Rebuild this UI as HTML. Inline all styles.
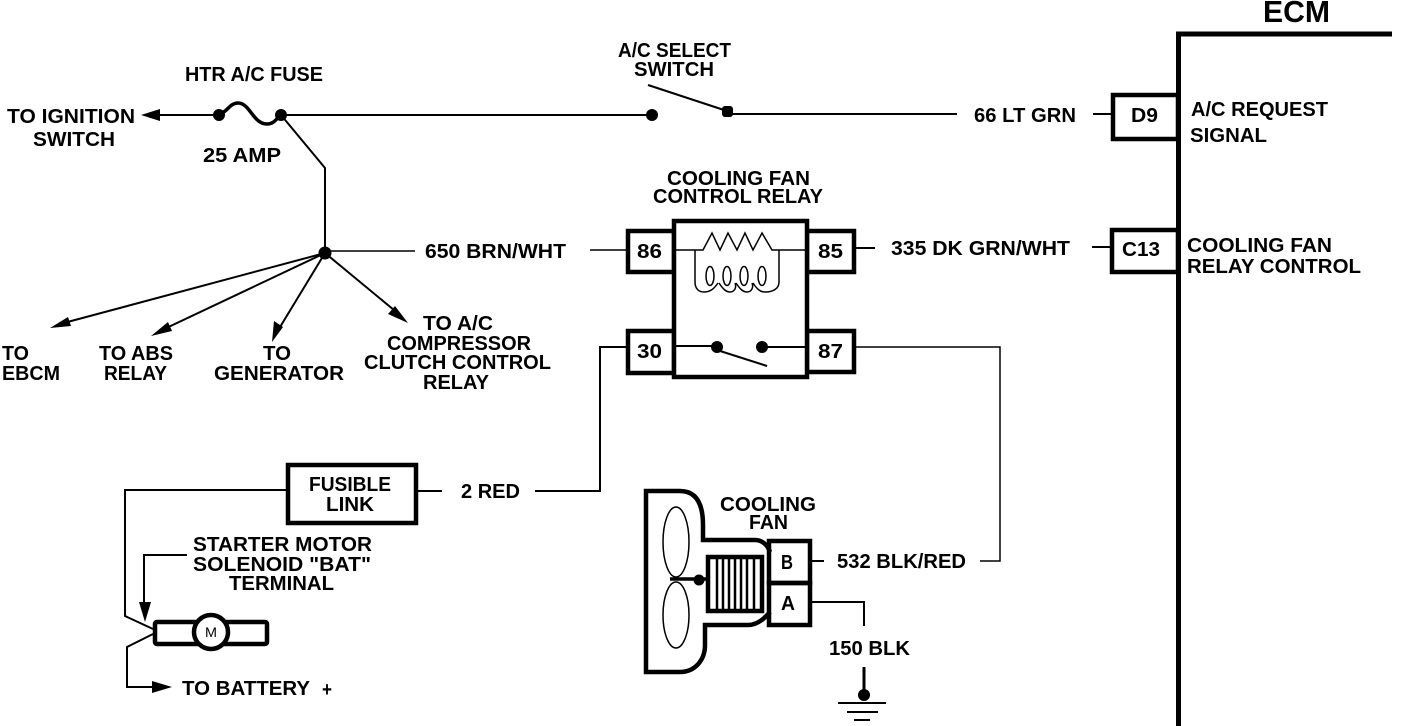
<!DOCTYPE html>
<html><head><meta charset="utf-8"><style>
html,body{margin:0;padding:0;background:#fff}
svg{display:block}
text{font-family:"Liberation Sans",sans-serif;font-weight:bold;font-size:20px;fill:#000}
.w{fill:none;stroke:#000;stroke-width:2}
.t{fill:none;stroke:#000;stroke-width:1.5}
.b{fill:none;stroke:#000;stroke-width:4.5}
</style></head><body>
<svg width="1408" height="726" viewBox="0 0 1408 726" xmlns="http://www.w3.org/2000/svg">
<rect width="1408" height="726" fill="#fff"/>

<!-- ECM -->
<path d="M1392 34H1178.5V726" fill="none" stroke="#000" stroke-width="5"/>
<text x="1263" y="22" style="font-size:31px" textLength="67" lengthAdjust="spacingAndGlyphs">ECM</text>

<!-- top wire -->
<path class="w" d="M158 115H219"/>
<path d="M141 115L160 109V121Z"/>
<path d="M219 115C228 111 230 103 238 103C250 103 253 124 267 124C274 124 276 119 281 115" fill="none" stroke="#000" stroke-width="3.5"/>
<circle cx="219" cy="115" r="6"/><circle cx="281" cy="115" r="6"/>
<path class="w" d="M281 115H652"/>
<circle cx="652" cy="115" r="6"/>
<path class="w" d="M648 85L727 111"/>
<rect x="722" y="106" width="11" height="11" rx="3"/>
<path class="w" d="M727 114H957"/>
<path class="w" d="M1093 114H1112"/>
<rect class="b" x="1113" y="95" width="65" height="44"/>

<!-- branch -->
<path class="w" d="M281 115L325 168V253"/>
<circle cx="325" cy="253" r="6.5"/>
<path class="t" d="M325 251H415"/>
<path class="w" d="M325 253L60 324"/>
<path d="M50 328L68 317L71 326Z"/>
<path class="w" d="M325 253L160 331"/>
<path d="M151 336L168 322L172 331Z"/>
<path class="w" d="M325 253L277 332"/>
<path d="M272 342L274 321L283 327Z"/>
<path class="w" d="M325 253L400 315"/>
<path d="M408 323L388 314L395 306Z"/>

<!-- relay -->
<path class="t" d="M590 250H626"/>
<rect class="b" x="628" y="231" width="46" height="41"/>
<rect class="b" x="807" y="231" width="47" height="41"/>
<rect class="b" x="628" y="331" width="46" height="42"/>
<rect class="b" x="807" y="331" width="47" height="41"/>
<rect x="674" y="221" width="133" height="156" fill="#fff" stroke="#000" stroke-width="4.5"/>
<path class="t" d="M675 250H703L712 233L720 250L728 233L737 250L745 233L753 250L762 233L772 250H807"/>
<path class="t" d="M695 250V282C695 289 699 292 704 292C710 292 714 289 718 283M719 283C723 289 726 292 730 292C734 292 737 288 735 283M736 283C740 289 743 292 747 292C751 292 754 288 752 283M753 283C757 289 760 292 765 292C774 292 779 288 779 282V250"/>
<ellipse class="t" cx="710" cy="276" rx="4" ry="9.5"/>
<ellipse class="t" cx="727" cy="276" rx="4" ry="9.5"/>
<ellipse class="t" cx="744" cy="276" rx="4" ry="9.5"/>
<ellipse class="t" cx="762" cy="276" rx="4" ry="9.5"/>
<path class="w" d="M675 346H717"/>
<circle cx="717" cy="347" r="6"/>
<path class="w" d="M717 350L767 366"/>
<circle cx="762" cy="347" r="6"/>
<path class="w" d="M762 347H807"/>
<path class="w" d="M855 248H875"/>
<path class="w" d="M1092 247H1112"/>
<rect class="b" x="1112" y="230" width="66" height="42"/>
<path class="t" d="M855 347H1000V561H980"/>
<path class="w" d="M626 347H600V491H535"/>

<!-- fusible link -->
<rect class="b" x="288" y="465" width="128" height="58"/>
<path class="w" d="M416 491H442"/>
<path class="w" d="M287 490H125V616L153 629"/>
<path class="w" d="M153 634L127 647V687H155"/>
<path d="M172 687L152 681V693Z"/>
<path class="w" d="M187 555H144V605"/>
<path d="M145 622L139 602H151Z"/>

<!-- motor -->
<rect class="b" x="155" y="622" width="112" height="22" rx="2"/>
<circle cx="211" cy="632" r="17" fill="#fff" stroke="#000" stroke-width="4.5"/>

<!-- fan -->
<path d="M770 552C768 546 763 540 755 540H703V525C703 505 697 491 680 491H646V672H680C695 672 705 660 705 645V625H748C757 625 765 618 770 612" fill="none" stroke="#000" stroke-width="4.5"/>
<ellipse class="t" cx="676" cy="542" rx="13" ry="35"/>
<ellipse class="t" cx="676" cy="615" rx="13" ry="33"/>
<path d="M670 579H707" stroke="#000" stroke-width="3.5"/>
<circle cx="699" cy="580" r="5.5"/>
<rect x="708" y="557" width="54" height="54" fill="#fff" stroke="#000" stroke-width="4.5"/>
<path d="M717 558V610M723 558V610M729 558V610M735 558V610M741 558V610M747 558V610M754 558V610" stroke="#000" stroke-width="2.5"/>
<rect class="b" x="769" y="541" width="41" height="42"/>
<rect class="b" x="769" y="583" width="41" height="42"/>
<path class="w" d="M810 561H824"/>
<path class="w" d="M810 602H864V626"/>
<path d="M864 667V695" stroke="#000" stroke-width="3"/>
<circle cx="864" cy="695" r="6"/>
<path d="M838 703H886M847 712H878M854 720H870" stroke="#000" stroke-width="2"/>

<!-- labels -->
<text x="7" y="123" textLength="128" lengthAdjust="spacingAndGlyphs">TO IGNITION</text>
<text x="33" y="146" textLength="82" lengthAdjust="spacingAndGlyphs">SWITCH</text>
<text x="185" y="81" textLength="138" lengthAdjust="spacingAndGlyphs">HTR A/C FUSE</text>
<text x="203" y="162" textLength="78" lengthAdjust="spacingAndGlyphs">25 AMP</text>
<text x="618" y="57" textLength="113" lengthAdjust="spacingAndGlyphs">A/C SELECT</text>
<text x="634" y="76" textLength="80" lengthAdjust="spacingAndGlyphs">SWITCH</text>
<text x="974" y="122" textLength="102" lengthAdjust="spacingAndGlyphs">66 LT GRN</text>
<text x="1131" y="122" textLength="27" lengthAdjust="spacingAndGlyphs">D9</text>
<text x="1191" y="116" textLength="137" lengthAdjust="spacingAndGlyphs">A/C REQUEST</text>
<text x="1190" y="142" textLength="77" lengthAdjust="spacingAndGlyphs">SIGNAL</text>
<text x="667" y="185" textLength="143" lengthAdjust="spacingAndGlyphs">COOLING FAN</text>
<text x="653" y="203" textLength="170" lengthAdjust="spacingAndGlyphs">CONTROL RELAY</text>
<text x="425" y="258" textLength="141" lengthAdjust="spacingAndGlyphs">650 BRN/WHT</text>
<text x="637" y="258" textLength="25" lengthAdjust="spacingAndGlyphs">86</text>
<text x="818" y="258" textLength="25" lengthAdjust="spacingAndGlyphs">85</text>
<text x="637" y="358" textLength="25" lengthAdjust="spacingAndGlyphs">30</text>
<text x="818" y="358" textLength="25" lengthAdjust="spacingAndGlyphs">87</text>
<text x="891" y="255" textLength="179" lengthAdjust="spacingAndGlyphs">335 DK GRN/WHT</text>
<text x="1122" y="256" textLength="38" lengthAdjust="spacingAndGlyphs">C13</text>
<text x="1187" y="252" textLength="145" lengthAdjust="spacingAndGlyphs">COOLING FAN</text>
<text x="1187" y="273" textLength="174" lengthAdjust="spacingAndGlyphs">RELAY CONTROL</text>
<text x="2" y="360" textLength="27" lengthAdjust="spacingAndGlyphs">TO</text>
<text x="2" y="380" textLength="58" lengthAdjust="spacingAndGlyphs">EBCM</text>
<text x="99" y="360" textLength="74" lengthAdjust="spacingAndGlyphs">TO ABS</text>
<text x="104" y="380" textLength="63" lengthAdjust="spacingAndGlyphs">RELAY</text>
<text x="263" y="360" textLength="28" lengthAdjust="spacingAndGlyphs">TO</text>
<text x="214" y="380" textLength="130" lengthAdjust="spacingAndGlyphs">GENERATOR</text>
<text x="423" y="330" textLength="70" lengthAdjust="spacingAndGlyphs">TO A/C</text>
<text x="387" y="350" textLength="144" lengthAdjust="spacingAndGlyphs">COMPRESSOR</text>
<text x="364" y="369" textLength="187" lengthAdjust="spacingAndGlyphs">CLUTCH CONTROL</text>
<text x="423" y="389" textLength="66" lengthAdjust="spacingAndGlyphs">RELAY</text>
<text x="309" y="491" textLength="82" lengthAdjust="spacingAndGlyphs">FUSIBLE</text>
<text x="326" y="511" textLength="48" lengthAdjust="spacingAndGlyphs">LINK</text>
<text x="461" y="498" textLength="59" lengthAdjust="spacingAndGlyphs">2 RED</text>
<text x="720" y="511" textLength="96" lengthAdjust="spacingAndGlyphs">COOLING</text>
<text x="749" y="529" textLength="39" lengthAdjust="spacingAndGlyphs">FAN</text>
<text x="781" y="569" textLength="12" lengthAdjust="spacingAndGlyphs">B</text>
<text x="781" y="610" textLength="14" lengthAdjust="spacingAndGlyphs">A</text>
<text x="837" y="568" textLength="129" lengthAdjust="spacingAndGlyphs">532 BLK/RED</text>
<text x="829" y="655" textLength="81" lengthAdjust="spacingAndGlyphs">150 BLK</text>
<text x="193" y="551" textLength="179" lengthAdjust="spacingAndGlyphs">STARTER MOTOR</text>
<text x="193" y="571" textLength="178" lengthAdjust="spacingAndGlyphs">SOLENOID "BAT"</text>
<text x="229" y="590" textLength="105" lengthAdjust="spacingAndGlyphs">TERMINAL</text>
<text x="182" y="695" textLength="128" lengthAdjust="spacingAndGlyphs">TO BATTERY</text>
<text x="322" y="696" textLength="10" lengthAdjust="spacingAndGlyphs">+</text>
<text x="205" y="637" style="font-size:14px;font-weight:normal" textLength="12" lengthAdjust="spacingAndGlyphs">M</text>
</svg>
</body></html>
